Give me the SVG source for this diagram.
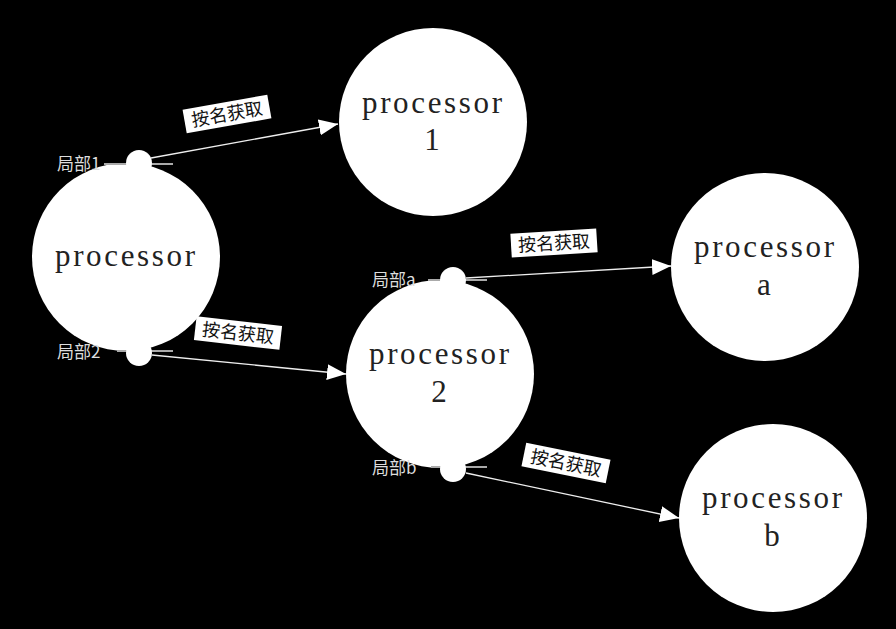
<svg xmlns="http://www.w3.org/2000/svg" width="896" height="629" viewBox="0 0 896 629">
<defs>
<style>
.node{fill:#fff}
.nt{font-family:"Liberation Serif","DejaVu Serif",serif;font-size:31px;fill:#222;text-anchor:middle}
.port{fill:#fff}
.pl{font-family:"Noto Sans CJK SC",sans-serif;font-size:17px;fill:#ddd}
.stub{stroke:#aaa;stroke-width:2}
.edge{stroke:#eee;stroke-width:1.3;fill:none;marker-end:url(#ah)}
.lb{fill:#fff}
.lt{font-family:"Noto Sans CJK SC",sans-serif;font-size:18px;fill:#111;text-anchor:middle}
</style>
<marker id="ah" markerUnits="userSpaceOnUse" markerWidth="20" markerHeight="18" refX="19" refY="8" orient="auto">
<path d="M0,0 L19,8 L0,16 Z" fill="#fff"/>
</marker>
</defs>
<rect width="896" height="629" fill="#000"/>
<g id="processor">
<circle class="node" cx="126" cy="257" r="94"/>
<text class="nt" x="125" y="266" textLength="140">processor</text>
</g>
<g id="processor1">
<circle class="node" cx="433" cy="122" r="94"/>
<text class="nt" x="432" y="113" textLength="140">processor</text>
<text class="nt" x="432" y="150">1</text>
</g>
<g id="processor2">
<circle class="node" cx="440" cy="374" r="94"/>
<text class="nt" x="439" y="364" textLength="140">processor</text>
<text class="nt" x="439" y="402">2</text>
</g>
<g id="processora">
<circle class="node" cx="765" cy="267" r="94"/>
<text class="nt" x="764" y="257" textLength="140">processor</text>
<text class="nt" x="764" y="295">a</text>
</g>
<g id="processorb">
<circle class="node" cx="773" cy="518" r="94"/>
<text class="nt" x="772" y="508" textLength="140">processor</text>
<text class="nt" x="772" y="546">b</text>
</g>
<g id="port1">
<text class="pl" x="57" y="170">局部1</text>
<line class="stub" x1="104" y1="164" x2="173" y2="164"/>
<circle class="port" cx="139" cy="163" r="13"/>
</g>
<g id="port2">
<text class="pl" x="57" y="358">局部2</text>
<line class="stub" x1="117" y1="351" x2="173" y2="351"/>
<circle class="port" cx="139" cy="353" r="13"/>
</g>
<g id="porta">
<text class="pl" x="372" y="286">局部a</text>
<line class="stub" x1="428" y1="280" x2="487" y2="280"/>
<circle class="port" cx="453" cy="280" r="13"/>
</g>
<g id="portb">
<text class="pl" x="372" y="474">局部b</text>
<line class="stub" x1="431" y1="467" x2="487" y2="467"/>
<circle class="port" cx="453" cy="469" r="13"/>
</g>
<g id="connectors">
<line class="edge" x1="151" y1="158" x2="338" y2="124"/>
<line class="edge" x1="152" y1="355" x2="346" y2="374"/>
<line class="edge" x1="466" y1="278" x2="671" y2="266"/>
<line class="edge" x1="466" y1="473" x2="679" y2="518"/>
<g transform="translate(227,114) rotate(-10)">
<rect class="lb" x="-43" y="-12" width="86" height="24"/>
<text class="lt" x="0" y="6.5">按名获取</text>
</g>
<g transform="translate(238,333) rotate(6.5)">
<rect class="lb" x="-43" y="-12" width="86" height="24"/>
<text class="lt" x="0" y="6.5">按名获取</text>
</g>
<g transform="translate(554,243) rotate(-3.5)">
<rect class="lb" x="-43" y="-12" width="86" height="24"/>
<text class="lt" x="0" y="6.5">按名获取</text>
</g>
<g transform="translate(566,463) rotate(11.5)">
<rect class="lb" x="-43" y="-12" width="86" height="24"/>
<text class="lt" x="0" y="6.5">按名获取</text>
</g>
</g>
</svg>
